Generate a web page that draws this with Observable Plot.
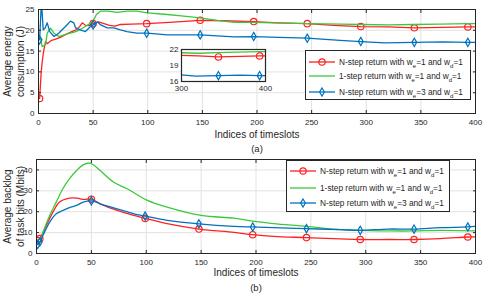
<!DOCTYPE html>
<html><head><meta charset="utf-8">
<script src="https://cdn.jsdelivr.net/npm/d3@7"></script>
<script src="https://cdn.jsdelivr.net/npm/@observablehq/plot@0.6"></script>
<style>
body{margin:0;background:#fff}
#c{position:relative;width:485px;height:300px;font-family:"Liberation Sans",Arial,sans-serif;color:#262626;overflow:hidden}
#c svg{position:absolute;background:transparent !important;overflow:visible}
.leg{position:absolute;border:1px solid #262626;background:#fff;box-sizing:border-box}
.row{position:absolute;left:0;height:12px;display:flex;align-items:center;font-size:8.3px;white-space:nowrap}
.row svg{position:static !important}
.row sub{font-size:6px;vertical-align:-2.5px;line-height:0}
</style>
</head><body><div id="c"></div>
<script>
// ---------- data ----------
const xTicks = [0, 50, 100, 150, 200, 250, 300, 350, 400];
const energyTicks = [0, 5, 10, 15, 20, 25];
const backlogTicks = [0, 10, 20, 30, 40];
const insetXTicks = [300, 400];
const insetYTicks = [16, 19, 22];
const markerXTop = [1, 50, 99, 148, 197, 246, 295, 344, 393];
const markerXBottom = [1, 3, 50, 99, 148, 197, 246, 295, 344, 393];

const seriesNames = [
  "N-step return with w_e=1 and w_d=1",
  "1-step return with w_e=1 and w_d=1",
  "N-step return with w_e=3 and w_d=1"
];
const seriesColors = ["#ff2020", "#3cc83c", "#0072bd"];
const seriesSymbols = ["circle", null, "diamond"];

// (a) average energy consumption (J)
const energyRed = [[1,3.6],[2.5,10],[3.4,12.5],[4.9,15.3],[6.4,17.3],[7.9,16.8],[10,17.2],[12,17.6],[15,17.8],[20,18.3],[25,19],[30,19.6],[35,20.2],[38,21],[40,21.8],[43,21.2],[46,21.1],[50,21.6],[55,22],[60,21.6],[65,21.2],[70,21],[75,21.4],[85,21.5],[99,21.6],[120,21.9],[148,22.4],[170,22.3],[197,22.1],[220,21.8],[246,21.6],[270,21.2],[295,20.9],[320,20.8],[344,20.6],[370,20.7],[393,20.8],[400,20.8]];
const energyGreen = [[1.8,18.1],[3.4,16.1],[6.4,16.5],[8,19.3],[11,20.5],[14.2,19.3],[18.6,18.5],[22,18.8],[27,19.2],[32,19.5],[37,20],[42,20.8],[47,21.6],[50,22.2],[53,23.8],[56.8,24.6],[64,24.6],[71.9,24.3],[81,24.6],[90,24.6],[99.5,24.2],[118,23.8],[133,23.4],[148,23],[163.5,22.4],[178.8,21.9],[194,21.9],[215,21.8],[246,21.6],[276.5,21.5],[296,21.4],[321,21.3],[343,21.4],[367,21.5],[393,21.6],[400,21.6]];
const energyBlue = [[1,17.7],[2.7,27],[4.3,20.1],[6,20.5],[8,21.8],[10.3,19.7],[14.2,18.5],[18.6,19.3],[20,19.7],[24.7,20.9],[29.3,22.2],[32.3,21.8],[33.9,20.6],[38.4,20.1],[43,19.7],[47.6,20.9],[50,21.3],[54,22],[57,21.3],[62.9,20.6],[69,20.6],[75,20.1],[81,19.7],[90,19.3],[99,19.3],[118,18.9],[148,18.9],[179,18.4],[197,18.5],[220,18.3],[246,18.1],[276,17.6],[295,17.3],[317,17],[344,17.1],[370,17.2],[393,17.1],[400,17.1]];

// (b) average backlog of task bits (Mbits)
const backlogRed = [[1,6.2],[3,7.1],[9,13.5],[15,19.8],[21,24.6],[30,26.5],[37,26.5],[43,25.9],[50,26],[58,23.8],[73.5,20.6],[88.6,18.2],[99,16.8],[119,14.3],[148,11.7],[180,10.1],[197,9],[216,8.2],[246,7.6],[277,7],[295,6.7],[322,6.7],[344,6.7],[368,7.1],[393,7.9],[400,8]];
const backlogGreen = [[1,5],[3,5.5],[6,10.3],[12,18.2],[18,24.6],[24,31],[30,35.7],[36.5,39.7],[42.5,42.4],[48.6,43.3],[53,42],[58,39.7],[70.4,34.1],[82.6,31],[100,25.7],[119,22.2],[150,18.2],[180,16.9],[197,15.5],[216,14.3],[246,13],[277,11.4],[295,11.1],[322,10.8],[344,10.8],[368,11.1],[400,10.8]];
const backlogBlue = [[1,4.3],[3,5.5],[6,8.7],[12,15],[18,19],[24,20.6],[30,22],[36.5,23],[42.5,24.6],[50,25.2],[54.5,24.6],[58,23.8],[73.5,21.4],[88.6,19],[99,17.9],[119,15.9],[148,14.2],[180,13],[197,12.7],[216,12.4],[246,11.9],[277,11.4],[295,11.1],[320,11.7],[344,11.7],[368,12.4],[393,12.7],[400,13]];

// ---------- drawing ----------
const C = document.getElementById("c");
const FG = "#262626", GRID = "#e2e2e2";
const blank = () => "";

function seriesMarks(list, markerX, curve, filterX) {
  const marks = [];
  list.forEach((data, i) => {
    const d = filterX ? data.filter(filterX) : data;
    marks.push(Plot.line(d, {x: p => p[0], y: p => p[1], stroke: seriesColors[i], strokeWidth: 1.3, curve, clip: true}));
    if (seriesSymbols[i]) {
      const m = d.filter(p => markerX.includes(p[0]));
      marks.push(Plot.dot(m, {x: p => p[0], y: p => p[1], stroke: seriesColors[i], fill: "none", strokeWidth: 1.2, clip: true,
        symbol: seriesSymbols[i], r: seriesSymbols[i] === "circle" ? 3.2 : 2.5}));
    }
  });
  return marks;
}

function innerTicks(xt, yt) {
  return [
    Plot.axisX(xt, {anchor: "bottom", tickSize: -3, tickFormat: blank, label: null, stroke: FG}),
    Plot.axisX(xt, {anchor: "top", tickSize: -3, tickFormat: blank, label: null, stroke: FG}),
    Plot.axisY(yt, {anchor: "left", tickSize: -3, tickFormat: blank, label: null, stroke: FG}),
    Plot.axisY(yt, {anchor: "right", tickSize: -3, tickFormat: blank, label: null, stroke: FG})
  ];
}

function panel({top, height, ml, mt, mb, yDomain, yTicks, list, markerX, curve, yLab1, yLab2, cap}) {
  const svg = Plot.plot({
    width: 485, height, marginLeft: ml, marginRight: 10, marginTop: mt, marginBottom: mb,
    style: {fontFamily: '"Liberation Sans", Arial, sans-serif', color: FG, background: "transparent", overflow: "visible"},
    x: {domain: [0, 400]},
    y: {domain: yDomain},
    marks: [
      Plot.gridX(xTicks, {stroke: GRID, strokeOpacity: 1}),
      Plot.gridY(yTicks, {stroke: GRID, strokeOpacity: 1}),
      ...seriesMarks(list, markerX, curve),
      ...innerTicks(xTicks, yTicks),
      Plot.frame({stroke: FG, strokeWidth: 1}),
      Plot.axisX(xTicks, {tickSize: 0, tickPadding: 6, fontSize: 8, label: null, color: FG}),
      Plot.axisY(yTicks, {tickSize: 0, tickPadding: 4, fontSize: 8, label: null, color: FG}),
      Plot.text(["Indices of timeslots"], {frameAnchor: "bottom", dy: cap[0], fontSize: 10, fill: FG}),
      Plot.text([cap[2]], {frameAnchor: "bottom", dy: cap[1], fontSize: 9.5, fill: FG}),
      Plot.text([yLab1[0]], {frameAnchor: "left", textAnchor: "middle", dx: yLab1[1], rotate: -90, fontSize: 10, fill: FG}),
      Plot.text([yLab2[0]], {frameAnchor: "left", textAnchor: "middle", dx: yLab2[1], rotate: -90, fontSize: 10, fill: FG})
    ]
  });
  svg.style.left = "0px"; svg.style.top = top + "px";
  C.appendChild(svg);
}

function legend(left, top, w, h, rowTops) {
  const box = document.createElement("div");
  box.className = "leg";
  Object.assign(box.style, {left: left + "px", top: top + "px", width: w + "px", height: h + "px"});
  seriesNames.forEach((name, i) => {
    const row = document.createElement("div");
    row.className = "row";
    row.style.top = (rowTops[i] - 6) + "px";
    const sw = d3.create("svg").attr("width", 32).attr("height", 12);
    sw.append("line").attr("x1", 3).attr("x2", 29).attr("y1", 6).attr("y2", 6).attr("stroke", seriesColors[i]).attr("stroke-width", 1.3);
    if (seriesSymbols[i] === "circle") sw.append("circle").attr("cx", 16).attr("cy", 6).attr("r", 3.2).attr("fill", "none").attr("stroke", seriesColors[i]).attr("stroke-width", 1.2);
    if (seriesSymbols[i] === "diamond") sw.append("path").attr("d", "M16,2 L18.4,6 L16,10 L13.6,6 Z").attr("fill", "none").attr("stroke", seriesColors[i]).attr("stroke-width", 1.2);
    row.appendChild(sw.node());
    const t = document.createElement("span");
    t.style.marginLeft = "1px";
    t.innerHTML = name.replace(/w_(\w)/g, "w<sub>$1</sub>");
    row.appendChild(t);
    box.appendChild(row);
  });
  C.appendChild(box);
}

// bottom panel first, top panel over it
panel({top: 150, height: 150, ml: 36, mt: 9, mb: 47, yDomain: [0, 45], yTicks: backlogTicks,
  list: [backlogRed, backlogGreen, backlogBlue], markerX: markerXBottom, curve: "catmull-rom",
  yLab1: ["Average backlog", -29], yLab2: ["of task bits (Mbits)", -16], cap: [22, 37, "(b)"]});
panel({top: 0, height: 150, ml: 38, mt: 9, mb: 37, yDomain: [0, 25], yTicks: energyTicks,
  list: [energyRed, energyGreen, energyBlue], markerX: markerXTop, curve: "linear",
  yLab1: ["Average energy", -31], yLab2: ["consumption (J)", -18], cap: [24, 38, "(a)"]});

// inset
const inset = Plot.plot({
  width: 105, height: 50, marginLeft: 16, marginRight: 5, marginTop: 4, marginBottom: 14,
  style: {fontFamily: '"Liberation Sans", Arial, sans-serif', color: FG, background: "transparent", overflow: "visible"},
  x: {domain: [300, 400]},
  y: {domain: [16, 22]},
  marks: [
    Plot.frame({fill: "white", stroke: "none"}),
    ...seriesMarks([energyRed, energyGreen, energyBlue], markerXTop, "linear", p => p[0] >= 295),
    Plot.frame({stroke: FG, strokeWidth: 1.2}),
    Plot.axisX(insetXTicks, {tickSize: 0, tickPadding: 4, fontSize: 8, label: null, color: FG}),
    Plot.axisY(insetYTicks, {tickSize: 0, tickPadding: 3, fontSize: 8, label: null, color: FG})
  ]
});
inset.style.left = "165px"; inset.style.top = "45px";
C.appendChild(inset);

legend(305, 50, 166, 50, [11, 24.5, 40.5]);
legend(286, 160, 164, 52, [9.5, 26.5, 41.5]);
</script></body></html>
